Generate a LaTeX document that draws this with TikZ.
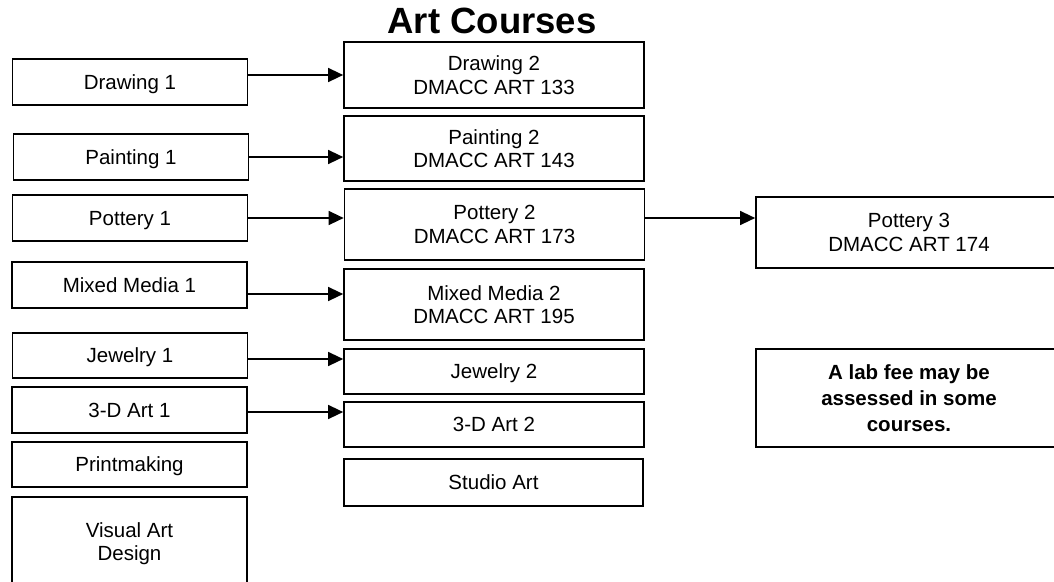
\documentclass[tikz,border=0pt]{standalone}
\usepackage{fontspec}
\setmainfont{Liberation Sans}
\usetikzlibrary{arrows.meta}
\definecolor{cLine}{HTML}{000000}
\definecolor{cText}{HTML}{000000}
\tikzset{
  course/.style = {draw=cLine, line width=1.7pt, inner sep=2pt, align=center,
                   text=cText, text depth=0pt, font=\fontsize{20.5}{23.6}\selectfont},
  first/.style  = {course, minimum width=235pt, minimum height=46pt},
  second/.style = {course, minimum width=300pt},
  third/.style  = {course, minimum width=306pt},
  feenote/.style= {third, font=\fontsize{20.5}{26}\selectfont\bfseries},
  prereq/.style = {cLine, line width=1.4pt, -{Triangle[length=15pt,width=14pt]}},
}
\begin{document}
\begin{tikzpicture}[x=1pt, y=-1pt]
  \useasboundingbox (0,0) rectangle (1054,581);
  \node[cText, font=\fontsize{36.5}{40}\selectfont\bfseries, anchor=base] (title) at (492,33) {Art Courses};
  % first-level courses
  \node[first] (draw1) at (130,82) {Drawing 1};
  \node[first] (paint1) at (131,157) {Painting 1};
  \node[first] (pot1) at (130,218) {Pottery 1};
  \node[first] (mm1) at (129.5,285) {Mixed Media 1};
  \node[first, minimum height=45pt] (jew1) at (130,355.5) {Jewelry 1};
  \node[first] (td1) at (129.5,410) {3-D Art 1};
  \node[first, minimum height=45pt] (print) at (129.5,464.5) {Printmaking};
  \node[first, minimum height=89pt] (vad) at (129.5,541.5) {Visual Art\\Design};
  % second-level courses
  \node[second, minimum height=66pt] (draw2) at (494,75) {Drawing 2\\DMACC ART 133};
  \node[second, minimum height=65pt] (paint2) at (494,148.5) {Painting 2\\DMACC ART 143};
  \node[second, minimum height=71pt] (pot2) at (494.5,224.5) {Pottery 2\\DMACC ART 173};
  \node[second, minimum height=71pt] (mm2) at (494,304.5) {Mixed Media 2\\DMACC ART 195};
  \node[second, minimum height=45pt] (jew2) at (494,371.5) {Jewelry 2};
  \node[second, minimum height=45pt] (td2) at (494,424.5) {3-D Art 2};
  \node[second, minimum height=47pt, minimum width=299pt] (studio) at (493.5,482.5) {Studio Art};
  \node[third, minimum height=71pt] (pot3) at (909,232.5) {Pottery 3\\DMACC ART 174};
  \node[feenote, minimum height=98pt] (fee) at (909,398) {A lab fee may be\\assessed in some\\courses.};
  \draw[prereq] (draw1.east |- draw2.west) -- (draw2.west);
  \draw[prereq] (paint1.east) -- (paint1.east -| paint2.west);
  \draw[prereq] (pot1.east) -- (pot1.east -| pot2.west);
  \draw[prereq] (mm1.east |- 0,294) -- (mm2.west |- 0,294);
  \draw[prereq] (jew1.east |- 0,359) -- (jew2.west |- 0,359);
  \draw[prereq] (td1.east |- 0,412) -- (td2.west |- 0,412);
  \draw[prereq] (pot2.east |- 0,218) -- (pot3.west |- 0,218);
\end{tikzpicture}
\end{document}
